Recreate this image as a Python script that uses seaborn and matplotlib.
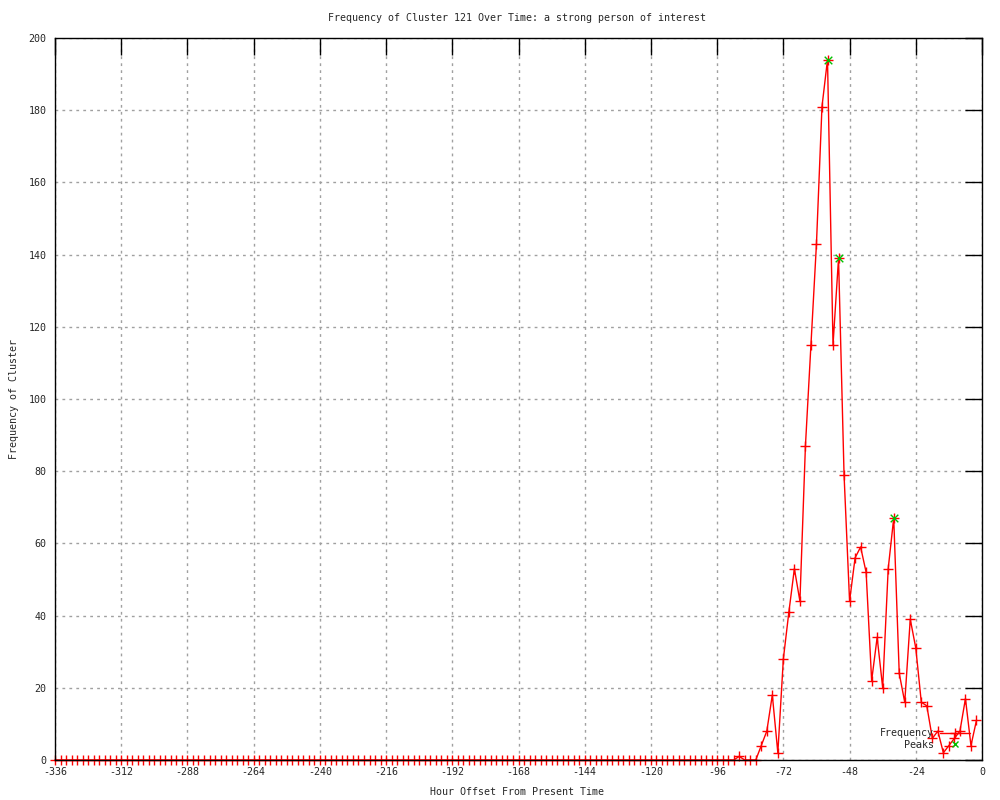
import numpy as np
import pandas as pd
import matplotlib
matplotlib.use("Agg")
import matplotlib.pyplot as plt
from matplotlib.lines import Line2D
import seaborn as sns

# hourly offsets, one sample every 2 hours
hours = np.arange(-336, 0, 2)

freq = [
    0, 0, 0, 0, 0, 0, 0, 0, 0, 0, 0, 0, 0, 0, 0, 0, 0, 0, 0, 0,
    0, 0, 0, 0, 0, 0, 0, 0, 0, 0, 0, 0, 0, 0, 0, 0, 0, 0, 0, 0,
    0, 0, 0, 0, 0, 0, 0, 0, 0, 0, 0, 0, 0, 0, 0, 0, 0, 0, 0, 0,
    0, 0, 0, 0, 0, 0, 0, 0, 0, 0, 0, 0, 0, 0, 0, 0, 0, 0, 0, 0,
    0, 0, 0, 0, 0, 0, 0, 0, 0, 0, 0, 0, 0, 0, 0, 0, 0, 0, 0, 0,
    0, 0, 0, 0, 0, 0, 0, 0, 0, 0, 0, 0, 0, 0, 0, 0, 0, 0, 0, 0,
    0, 0, 0, 0,
    1, 0, 0, 0, 4, 8, 18, 2, 28, 41,
    53, 44, 87, 115, 143, 181, 194, 115, 139, 79,
    44, 56, 59, 52, 22, 34, 20, 53, 67, 24,
    16, 39, 31, 16, 15, 6, 8, 2, 4, 6,
    8, 17, 4, 11,
]

peak_hours = [-56, -52, -32]
peak_values = [194, 139, 67]

x_ticks = list(range(-336, 1, 24))
y_ticks = list(range(0, 201, 20))

df = pd.DataFrame({"hour": hours, "freq": freq})
df_peaks = pd.DataFrame({"hour": peak_hours, "freq": peak_values})

sns.set_style("white")
plt.rcParams["font.family"] = ["DejaVu Sans Mono"]
plt.rcParams["font.size"] = 7.2
plt.rcParams["axes.unicode_minus"] = False

fig = plt.figure(figsize=(10, 8), dpi=100)
ax = fig.add_axes([0.055, 0.05, 0.927, 0.9025])

sns.lineplot(data=df, x="hour", y="freq", ax=ax, color="red", linewidth=1,
             marker="+", markersize=6.5, markeredgewidth=1, markeredgecolor="red",
             clip_on=False)
sns.scatterplot(data=df_peaks, x="hour", y="freq", ax=ax, color="#00c000",
                marker="x", s=30, linewidth=1, zorder=3)

ax.set_xlim(-336, 0)
ax.set_ylim(0, 200)
ax.set_xticks(x_ticks)
ax.set_yticks(y_ticks)
ax.set_xlabel("")
ax.set_ylabel("")
ax.grid(True, color="#a0a0a0", linestyle=(0, (2, 3)), linewidth=1)
ax.tick_params(direction="in", length=12, width=1, color="black",
               top=True, right=True, labelsize=7.2, pad=6)
ax.tick_params(axis="x", pad=5)
for s in ax.spines.values():
    s.set_color("black")
    s.set_linewidth(1)
    s.set_zorder(5)

handles = [
    Line2D([], [], color="red", linewidth=1, marker="+", markersize=6.5,
           markeredgewidth=1),
    Line2D([], [], color="#00c000", linestyle="none", marker="x", markersize=5,
           markeredgewidth=1),
]
ax.legend(handles, ["Frequency", "Peaks"], loc="lower right",
          bbox_to_anchor=(0.987, 0.014), frameon=False, markerfirst=False,
          handlelength=3, handletextpad=0.6, labelspacing=0.15,
          borderpad=0, borderaxespad=0, fontsize=7.2)

fig.text(0.517, 0.9775, "Frequency of Cluster 121 Over Time: a strong person of interest",
         ha="center", va="center", fontsize=7.2)
fig.text(0.517, 0.01, "Hour Offset From Present Time",
         ha="center", va="center", fontsize=7.2)
fig.text(0.014, 0.501, "Frequency of Cluster", rotation=90,
         ha="center", va="center", fontsize=7.2)

fig.savefig("out.png", dpi=100)
